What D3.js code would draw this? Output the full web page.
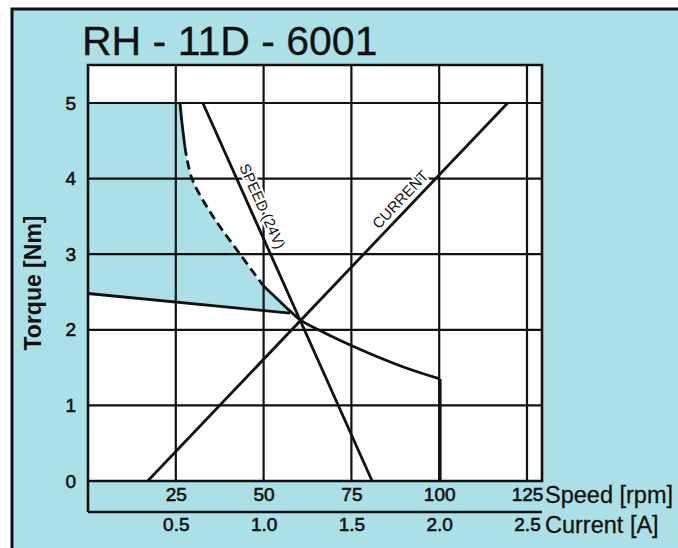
<!DOCTYPE html>
<html>
<head>
<meta charset="utf-8">
<script src="https://cdn.jsdelivr.net/npm/d3@7"></script>
<style>
  html, body { margin: 0; padding: 0; background: #fff; }
  svg { display: block; font-family: "Liberation Sans", Arial, Helvetica, sans-serif; }
</style>
</head>
<body>
<div id="chart"></div>
<script>
// Axis ticks
const speedTicks = [25, 50, 75, 100, 125];
const currentTicks = [0.5, 1.0, 1.5, 2.0, 2.5];
const torqueTicks = [0, 1, 2, 3, 4, 5];

// Curves: [speed rpm, torque Nm] or [current A, torque Nm]
const speedLine = [[32.7, 5], [80.9, 0]];
const currentLine = [[0.34, 0], [2.39, 5]];
const limitTop = [[26.2, 5.0], [26.8, 4.72], [27.6, 4.42]];
const limitDashed = [[27.6, 4.42], [29.6, 4.0], [35.6, 3.5], [43.3, 3.0], [49.8, 2.59]];
const limitLow = [[49.8, 2.59], [57.5, 2.25], [60.4, 2.13], [66, 1.99], [72, 1.855], [80, 1.69], [90, 1.505], [100.2, 1.35]];
const stallLine = [[100.2, 1.35], [100.2, 0]];
const torqueCap = [[0, 2.48], [57.5, 2.22]];

const W = 678, H = 548;
const cyan = '#aae0e6';
const ink = '#111';

const svg = d3.select('#chart').append('svg')
    .attr('width', W)
    .attr('height', H);

// Scales
const x = d3.scaleLinear().domain([0, 125]).range([88, 527]);
const xc = d3.scaleLinear().domain([0, 2.5]).range([88, 527]);
const y = d3.scaleLinear().domain([0, 5]).range([481, 103]);
const frameRight = 542, frameTop = 65, bandBottom = 512;

// Outer card
svg.append('rect')
    .attr('x', 12).attr('y', 9)
    .attr('width', 720).attr('height', 600)
    .attr('fill', cyan)
    .attr('stroke', ink)
    .attr('stroke-width', 3);

// Title
svg.append('text')
    .attr('x', 82).attr('y', 55)
    .attr('font-size', 41)
    .attr('fill', ink)
    .attr('stroke', ink)
    .attr('stroke-width', 0.3)
    .text('RH - 11D - 6001');

// Plot area
svg.append('rect')
    .attr('x', x(0)).attr('y', frameTop)
    .attr('width', frameRight - x(0))
    .attr('height', y(0) - frameTop)
    .attr('fill', '#fff');

// Shaded region (above max torque, left of limit curve)
const smooth = d3.line().x(d => x(d[0])).y(d => y(d[1])).curve(d3.curveCatmullRom);
const straight = d3.line().x(d => x(d[0])).y(d => y(d[1]));
const boundary = limitTop.concat(limitDashed.slice(1), limitLow.slice(1).filter(d => d[0] <= torqueCap[1][0]));
const shadePath = 'M' + x(0) + ',' + y(5) + 'L' + smooth(boundary).slice(1) +
    'L' + x(torqueCap[1][0]) + ',' + y(torqueCap[1][1]) +
    'L' + x(torqueCap[0][0]) + ',' + y(torqueCap[0][1]) + 'Z';
svg.append('path')
    .attr('d', shadePath)
    .attr('fill', cyan);

// Grid
const grid = svg.append('g').attr('stroke', ink).attr('stroke-width', 2.2);
grid.selectAll('.vg').data(speedTicks).enter().append('line')
    .attr('x1', d => x(d)).attr('x2', d => x(d))
    .attr('y1', frameTop).attr('y2', y(0));
grid.selectAll('.hg').data(torqueTicks.filter(d => d > 0)).enter().append('line')
    .attr('x1', x(0)).attr('x2', frameRight)
    .attr('y1', d => y(d)).attr('y2', d => y(d));

// Frame and lower band
const frame = svg.append('g').attr('stroke', ink).attr('stroke-width', 2.6).attr('fill', 'none');
frame.append('path')
    .attr('d', `M${x(0)},${bandBottom}V${frameTop}H${frameRight}V${y(0)}H${x(0)}`);
frame.append('line')
    .attr('x1', x(0)).attr('x2', frameRight)
    .attr('y1', bandBottom).attr('y2', bandBottom);

// Curves
const curves = svg.append('g').attr('fill', 'none').attr('stroke', ink).attr('stroke-width', 2.8);
curves.append('path').attr('d', straight(speedLine));
curves.append('path').attr('d', d3.line().x(d => xc(d[0])).y(d => y(d[1]))(currentLine));
curves.append('path').attr('d', smooth(limitTop));
curves.append('path').attr('d', smooth(limitDashed)).attr('stroke-dasharray', '9,5');
curves.append('path').attr('d', smooth(limitLow));
curves.append('path').attr('d', straight(stallLine)).attr('stroke-width', 3.4);
curves.append('path').attr('d', straight(torqueCap));

// Curve labels along the lines
function lineLabel(p0, p1, t, text, offset) {
    const ang = Math.atan2(p1[1] - p0[1], p1[0] - p0[0]) * 180 / Math.PI;
    const px = p0[0] + (p1[0] - p0[0]) * t, py = p0[1] + (p1[1] - p0[1]) * t;
    svg.append('text')
        .attr('transform', `translate(${px},${py}) rotate(${ang})`)
        .attr('text-anchor', 'middle')
        .attr('dy', offset)
        .attr('font-size', 15)
        .attr('fill', ink)
        .attr('stroke', '#fff')
        .attr('stroke-width', 4)
        .attr('paint-order', 'stroke')
        .text(text);
}
// position on each line by torque value
const sp0 = [x(speedLine[0][0]), y(speedLine[0][1])], sp1 = [x(speedLine[1][0]), y(speedLine[1][1])];
lineLabel(sp0, sp1, (5 - 3.57) / 5, 'SPEED (24V)', -7);
const cu0 = [xc(currentLine[0][0]), y(currentLine[0][1])], cu1 = [xc(currentLine[1][0]), y(currentLine[1][1])];
lineLabel(cu0, cu1, 3.62 / 5, 'CURRENT', -6);

// Axes labels
const tickFont = g => g.call(s => s.select('.domain').remove())
    .selectAll('text')
    .attr('font-size', 19)
    .attr('font-family', '"Liberation Sans", Arial, sans-serif')
    .attr('fill', ink)
    .attr('stroke', ink)
    .attr('stroke-width', 0.6);

svg.append('g')
    .attr('transform', `translate(${x(0)},0)`)
    .call(d3.axisLeft(y).tickValues(torqueTicks).tickSize(0).tickPadding(12).tickFormat(d3.format('d')))
    .call(tickFont);

svg.append('g')
    .attr('transform', `translate(0,${y(0)})`)
    .call(d3.axisBottom(x).tickValues(speedTicks).tickSize(0).tickPadding(7))
    .call(tickFont);

svg.append('g')
    .attr('transform', `translate(0,${bandBottom})`)
    .call(d3.axisBottom(xc).tickValues(currentTicks).tickSize(0).tickPadding(6).tickFormat(d3.format('.1f')))
    .call(tickFont);

svg.append('text')
    .attr('x', 545).attr('y', 503)
    .attr('font-size', 23.5)
    .attr('fill', ink)
    .attr('stroke', ink)
    .attr('stroke-width', 0.3)
    .text('Speed [rpm]');
svg.append('text')
    .attr('x', 545).attr('y', 533)
    .attr('font-size', 23.5)
    .attr('fill', ink)
    .attr('stroke', ink)
    .attr('stroke-width', 0.3)
    .text('Current [A]');

svg.append('text')
    .attr('transform', 'translate(41,283) rotate(-90)')
    .attr('text-anchor', 'middle')
    .attr('font-size', 23)
    .attr('font-weight', 'bold')
    .attr('fill', ink)
    .text('Torque [Nm]');
</script>
</body>
</html>
